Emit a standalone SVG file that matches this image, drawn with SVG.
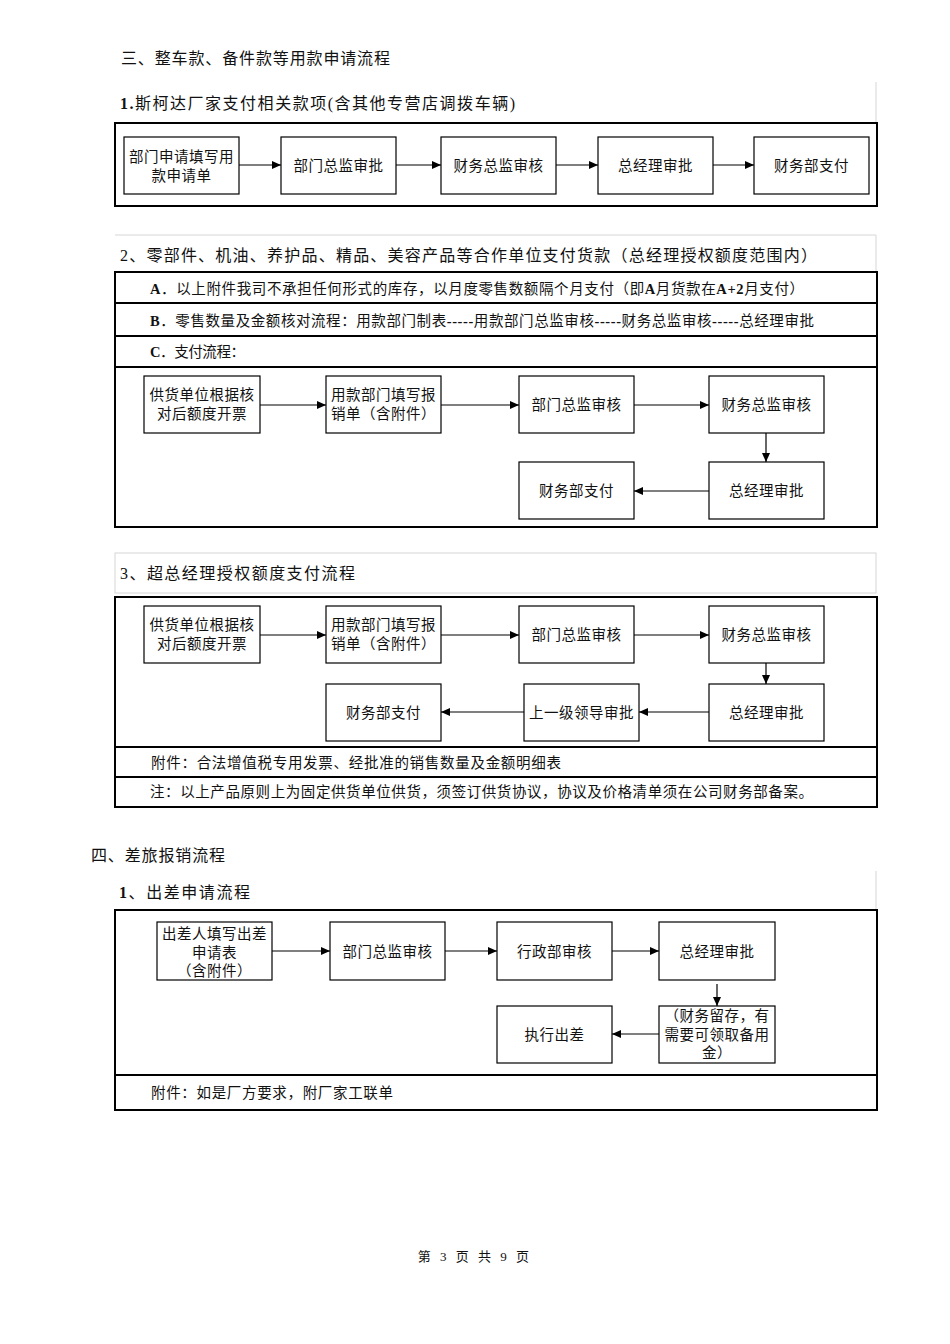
<svg xmlns="http://www.w3.org/2000/svg" width="950" height="1344" viewBox="0 0 950 1344">
<defs>
<marker id="ah" markerUnits="userSpaceOnUse" markerWidth="9" markerHeight="8" refX="9" refY="4" orient="auto">
<path d="M0,0 L9,4 L0,8 z" fill="#000"/>
</marker>
<style>
.bg{fill:#fff}
.frame{fill:none;stroke:#000;stroke-width:2}
.sep{stroke:#000;stroke-width:2}
.gray{fill:none;stroke:#d6d6d6;stroke-width:1}
.node rect{fill:#fff;stroke:#000;stroke-width:1.2}
.node text{font-family:"Liberation Serif","Noto Sans CJK SC",serif;font-size:14.5px;fill:#111;text-anchor:middle;letter-spacing:0.5px}
.t{font-family:"Liberation Serif","Noto Sans CJK SC",serif;fill:#111}
.h{font-size:16px}
.r{font-size:14.5px}
.b{font-weight:bold}
.conn line{stroke:#000;stroke-width:1.2;marker-end:url(#ah)}
</style>
</defs>
<rect class="bg" x="0" y="0" width="950" height="1344"/>

<!-- Section 三 -->
<g id="sec3-title">
<text class="t h" x="121" y="64" textLength="269" lengthAdjust="spacing">三、整车款、备件款等用款申请流程</text>
</g>
<g id="sec3-1-frame">
<line class="gray" x1="876" y1="82" x2="876" y2="123"/>
<text class="t h" x="120" y="109" textLength="395" lengthAdjust="spacing"><tspan class="b">1.</tspan>斯柯达厂家支付相关款项(含其他专营店调拨车辆)</text>
<rect class="frame" x="115" y="123" width="762" height="83"/>
</g>
<g id="s1n1" class="node"><rect x="124" y="137" width="115" height="57"/><text x="181.5" y="162">部门申请填写用</text><text x="181.5" y="181">款申请单</text></g>
<g id="s1n2" class="node"><rect x="281" y="137" width="115" height="57"/><text x="338.5" y="171">部门总监审批</text></g>
<g id="s1n3" class="node"><rect x="441" y="137" width="115" height="57"/><text x="498.5" y="171">财务总监审核</text></g>
<g id="s1n4" class="node"><rect x="598" y="137" width="115" height="57"/><text x="655.5" y="171">总经理审批</text></g>
<g id="s1n5" class="node"><rect x="754" y="137" width="115" height="57"/><text x="811.5" y="171">财务部支付</text></g>

<!-- Section 2 -->
<g id="sec3-2-frame">
<line class="gray" x1="115" y1="235" x2="876" y2="235"/>
<line class="gray" x1="876" y1="235" x2="876" y2="272"/>
<text class="t h" x="120" y="261" textLength="697" lengthAdjust="spacing">2、零部件、机油、养护品、精品、美容产品等合作单位支付货款（总经理授权额度范围内）</text>
<rect class="frame" x="115" y="272" width="762" height="255"/>
<line class="sep" x1="115" y1="303" x2="877" y2="303"/>
<line class="sep" x1="115" y1="336" x2="877" y2="336"/>
<line class="sep" x1="115" y1="367" x2="877" y2="367"/>
<text class="t r" x="150" y="294" textLength="654" lengthAdjust="spacing"><tspan class="b">A</tspan>．以上附件我司不承担任何形式的库存，以月度零售数额隔个月支付（即<tspan class="b">A</tspan>月货款在<tspan class="b">A+2</tspan>月支付）</text>
<text class="t r" x="150" y="326" textLength="664" lengthAdjust="spacing"><tspan class="b">B</tspan>．零售数量及金额核对流程：用款部门制表<tspan class="b">-----</tspan>用款部门总监审核<tspan class="b">-----</tspan>财务总监审核<tspan class="b">-----</tspan>总经理审批</text>
<text class="t r" x="150" y="357" textLength="95" lengthAdjust="spacing"><tspan class="b">C</tspan>．支付流程：</text>
</g>
<g id="s2n1" class="node"><rect x="144" y="376" width="116" height="57"/><text x="202" y="400">供货单位根据核</text><text x="202" y="419">对后额度开票</text></g>
<g id="s2n2" class="node"><rect x="326" y="376" width="115" height="57"/><text x="383.5" y="400">用款部门填写报</text><text x="383.5" y="419">销单（含附件）</text></g>
<g id="s2n3" class="node"><rect x="519" y="376" width="115" height="57"/><text x="576.5" y="410">部门总监审核</text></g>
<g id="s2n4" class="node"><rect x="709" y="376" width="115" height="57"/><text x="766.5" y="410">财务总监审核</text></g>
<g id="s2n5" class="node"><rect x="709" y="462" width="115" height="57"/><text x="766.5" y="496">总经理审批</text></g>
<g id="s2n6" class="node"><rect x="519" y="462" width="115" height="57"/><text x="576.5" y="496">财务部支付</text></g>

<!-- Section 3 -->
<g id="sec3-3-frame">
<rect class="gray" x="115" y="553" width="761" height="40"/>
<text class="t h" x="120" y="579" textLength="235" lengthAdjust="spacing">3、超总经理授权额度支付流程</text>
<rect class="frame" x="115" y="597" width="762" height="210"/>
<line class="sep" x1="115" y1="747" x2="877" y2="747"/>
<line class="sep" x1="115" y1="777" x2="877" y2="777"/>
<text class="t r" x="151" y="768" textLength="410" lengthAdjust="spacing">附件：合法增值税专用发票、经批准的销售数量及金额明细表</text>
<text class="t r" x="150" y="797" textLength="663" lengthAdjust="spacing">注：以上产品原则上为固定供货单位供货，须签订供货协议，协议及价格清单须在公司财务部备案。</text>
</g>
<g id="s3n1" class="node"><rect x="144" y="606" width="116" height="57"/><text x="202" y="630">供货单位根据核</text><text x="202" y="649">对后额度开票</text></g>
<g id="s3n2" class="node"><rect x="326" y="606" width="115" height="57"/><text x="383.5" y="630">用款部门填写报</text><text x="383.5" y="649">销单（含附件）</text></g>
<g id="s3n3" class="node"><rect x="519" y="606" width="115" height="57"/><text x="576.5" y="640">部门总监审核</text></g>
<g id="s3n4" class="node"><rect x="709" y="606" width="115" height="57"/><text x="766.5" y="640">财务总监审核</text></g>
<g id="s3n5" class="node"><rect x="709" y="684" width="115" height="57"/><text x="766.5" y="718">总经理审批</text></g>
<g id="s3n6" class="node"><rect x="524" y="684" width="115" height="57"/><text x="581.5" y="718">上一级领导审批</text></g>
<g id="s3n7" class="node"><rect x="326" y="684" width="115" height="57"/><text x="383.5" y="718">财务部支付</text></g>

<!-- Section 四 -->
<g id="sec4-title">
<text class="t h" x="91" y="861" textLength="134" lengthAdjust="spacing">四、差旅报销流程</text>
</g>
<g id="sec4-1-frame">
<line class="gray" x1="876" y1="871" x2="876" y2="910"/>
<text class="t h" x="119" y="898" textLength="131" lengthAdjust="spacing"><tspan class="b">1</tspan>、出差申请流程</text>
<rect class="frame" x="115" y="910" width="762" height="200"/>
<line class="sep" x1="115" y1="1075" x2="877" y2="1075"/>
<text class="t r" x="151" y="1098" textLength="242" lengthAdjust="spacing">附件：如是厂方要求，附厂家工联单</text>
</g>
<g id="s4n1" class="node"><rect x="157" y="922" width="115" height="58"/><text x="214.5" y="939">出差人填写出差</text><text x="214.5" y="958">申请表</text><text x="214.5" y="976">（含附件）</text></g>
<g id="s4n2" class="node"><rect x="330" y="922" width="115" height="58"/><text x="387.5" y="957">部门总监审核</text></g>
<g id="s4n3" class="node"><rect x="497" y="922" width="115" height="58"/><text x="554.5" y="957">行政部审核</text></g>
<g id="s4n4" class="node"><rect x="659" y="922" width="116" height="58"/><text x="717" y="957">总经理审批</text></g>
<g id="s4n5" class="node"><rect x="659" y="1006" width="116" height="57"/><text x="717" y="1021">（财务留存，有</text><text x="717" y="1040">需要可领取备用</text><text x="717" y="1058">金）</text></g>
<g id="s4n6" class="node"><rect x="497" y="1006" width="115" height="57"/><text x="554.5" y="1040">执行出差</text></g>

<!-- Footer -->
<g id="footer">
<text class="t" x="475" y="1261" font-size="13" text-anchor="middle" letter-spacing="3">第 3 页 共 9 页</text>
</g>

<!-- Connectors -->
<g id="connectors" class="conn">
<line x1="239" y1="165" x2="281" y2="165"/>
<line x1="396" y1="165" x2="441" y2="165"/>
<line x1="556" y1="165" x2="598" y2="165"/>
<line x1="713" y1="165" x2="754" y2="165"/>

<line x1="260" y1="405" x2="326" y2="405"/>
<line x1="441" y1="405" x2="519" y2="405"/>
<line x1="634" y1="405" x2="709" y2="405"/>
<line x1="766" y1="433" x2="766" y2="462"/>
<line x1="709" y1="491" x2="634" y2="491"/>

<line x1="260" y1="635" x2="326" y2="635"/>
<line x1="441" y1="635" x2="519" y2="635"/>
<line x1="634" y1="635" x2="709" y2="635"/>
<line x1="766" y1="663" x2="766" y2="684"/>
<line x1="709" y1="712" x2="639" y2="712"/>
<line x1="524" y1="712" x2="441" y2="712"/>

<line x1="272" y1="951" x2="330" y2="951"/>
<line x1="445" y1="951" x2="497" y2="951"/>
<line x1="612" y1="951" x2="659" y2="951"/>
<line x1="717" y1="984" x2="717" y2="1006"/>
<line x1="659" y1="1034" x2="612" y2="1034"/>
</g>
</svg>
